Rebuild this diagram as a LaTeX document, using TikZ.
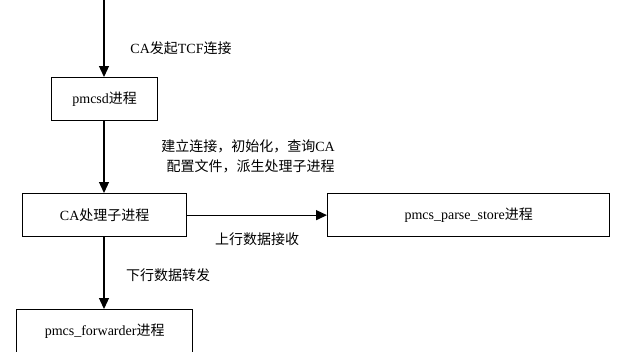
\documentclass[tikz,border=0pt]{standalone}
\usepackage{fontspec}
\setmainfont{Liberation Serif}
\newfontfamily\cjk{Noto Sans CJK SC}
\usetikzlibrary{arrows.meta}
\begin{document}
\begin{tikzpicture}[x=1pt,y=-1pt,
  box/.style={draw,line width=1.3pt,inner sep=0pt,anchor=north west,font=\fontsize{14}{16}\selectfont},
  lbl/.style={font=\fontsize{14}{20}\selectfont,inner sep=0pt},
  arr/.style={line width=1.3pt,-{Triangle[length=11pt,width=10pt]}}]
\useasboundingbox (0,0) rectangle (632,351);
\clip (0,0) rectangle (632,351);
\node[box,minimum width=106pt,minimum height=43pt] (pm) at (51,77) {pmcsd{\cjk 进程}};
\node[box,minimum width=164pt,minimum height=43pt] (ca) at (22,193) {CA{\cjk 处理子进程}};
\node[box,minimum width=282pt,minimum height=43pt] (ps) at (327,193) {pmcs\_parse\_store{\cjk 进程}};
\node[box,minimum width=176pt,minimum height=43pt] (fw) at (16,309) {pmcs\_forwarder{\cjk 进程}};
\coordinate (top) at (104,0);
\draw[arr] (top) -- (top|-pm.north);
\draw[arr] (top|-pm.south) -- (top|-ca.north);
\draw[arr] (top|-ca.south) -- (top|-fw.north);
\draw[arr] (ca.east) -- (ps.west);
\node[lbl] (l1) at (181,48) {CA{\cjk 发起}TCF{\cjk 连接}};
\node[lbl,align=right] (l2) at (248,156) {{\cjk 建立连接，初始化，查询}CA\\{\cjk 配置文件，派生处理子进程}};
\node[lbl] (l3) at (257,239) {\cjk 上行数据接收};
\node[lbl] (l4) at (168,275) {\cjk 下行数据转发};
\end{tikzpicture}
\end{document}
